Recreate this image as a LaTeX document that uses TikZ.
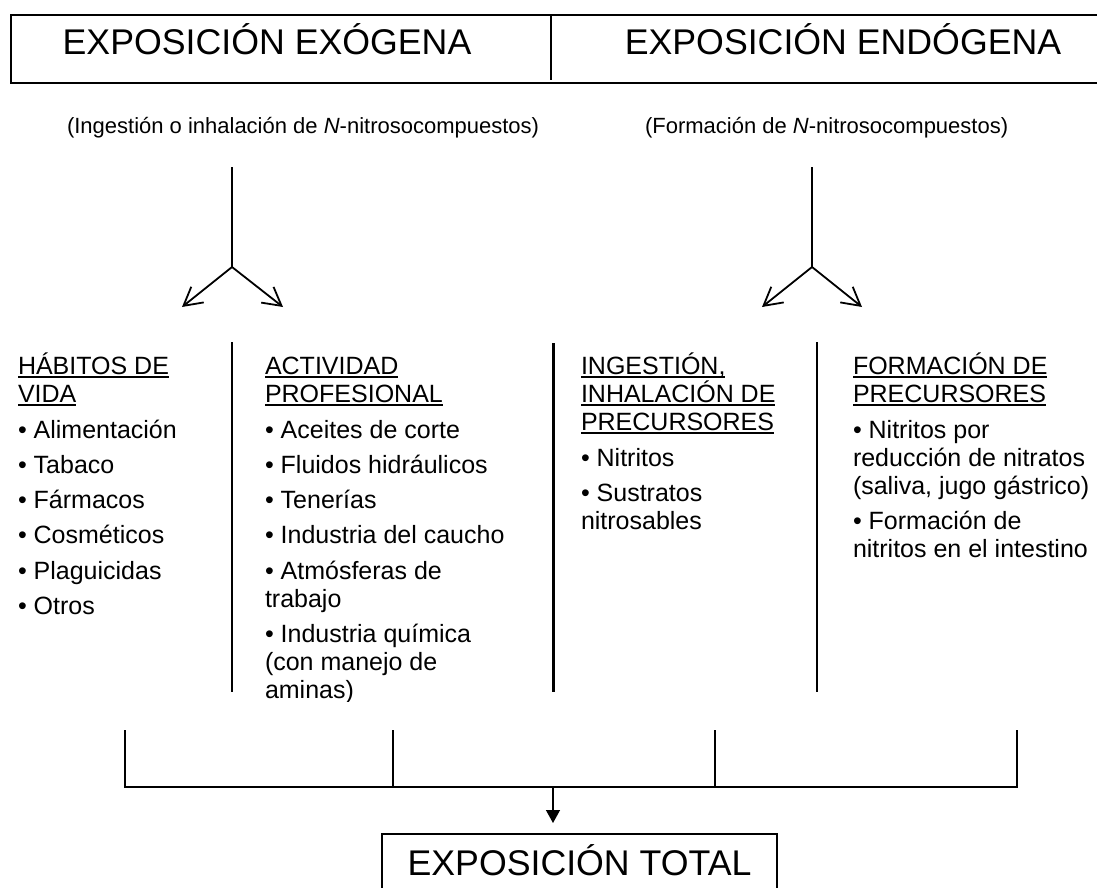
\documentclass[tikz,border=0pt]{standalone}
\usepackage{fontspec}
\setmainfont{Liberation Sans}
\usetikzlibrary{arrows.meta}

\newcommand{\firstline}{\rule{0pt}{24pt}}
\newcommand{\heading}[1]{\setbox0\hbox{#1}\rlap{\rule[-4pt]{\wd0}{1.8pt}}\box0}

\begin{document}
\begin{tikzpicture}[x=1pt, y=-1pt,
    every node/.style = {inner sep=0pt, outer sep=0pt},
    title/.style = {font=\fontsize{35.7}{40}\selectfont, anchor=base},
    subtitle/.style = {font=\fontsize{22}{26}\selectfont, anchor=base west},
    column/.style = {font=\fontsize{25}{28}\selectfont, align=left, anchor=north west},
    fork/.style = {line width=1.8pt, -{Straight Barb[length=18pt, width=20pt]}},
    divider/.style = {line width=1.3pt},
    bracket/.style = {line width=1.3pt}]
    \useasboundingbox (0,0) rectangle (1097,888);

    \draw[line width=2pt] (11,15) rectangle (1110,83);
    \draw[line width=2pt] (551,15) -- (551,80);
    \node[title] (exo) at (267,55) {EXPOSICIÓN EXÓGENA};
    \node[title] (endo) at (843,55) {EXPOSICIÓN ENDÓGENA};

    \node[subtitle] (exosub) at (67,133) {(Ingestión o inhalación de \textit{N}-nitrosocompuestos)};
    \node[subtitle] (endosub) at (645,133) {(Formación de \textit{N}-nitrosocompuestos)};

    \coordinate (exotop) at (232,167);
    \coordinate (exofork) at (232,267);
    \coordinate (exoleft) at (182,307);
    \coordinate (exoright) at (283,307);
    \draw[line width=1.8pt] (exotop) -- (exofork);
    \draw[fork] (exofork) -- (exoleft);
    \draw[fork] (exofork) -- (exoright);

    \coordinate (endotop) at (812,167);
    \coordinate (endofork) at (812,267);
    \coordinate (endoleft) at (762,307);
    \coordinate (endoright) at (862,307);
    \draw[line width=1.8pt] (endotop) -- (endofork);
    \draw[fork] (endofork) -- (endoleft);
    \draw[fork] (endofork) -- (endoright);

    \node[column] (habitos) at (18,350) {\firstline\heading{HÁBITOS DE}\\\heading{VIDA}\\[8pt]
        • Alimentación\\[7.3pt] • Tabaco\\[7.3pt] • Fármacos\\[7.3pt] • Cosméticos\\[7.3pt]
        • Plaguicidas\\[7.3pt] • Otros};
    \begin{scope}
        \clip (240,330) rectangle (545,701);
        \node[column] (actividad) at (265,350) {\firstline\heading{ACTIVIDAD}\\\heading{PROFESIONAL}\\[8pt]
            • Aceites de corte\\[7.3pt] • Fluidos hidráulicos\\[7.3pt] • Tenerías\\[7.3pt]
            • Industria del caucho\\[7.3pt] • Atmósferas de\\trabajo\\[7.3pt]
            • Industria química\\(con manejo de\\aminas)};
    \end{scope}
    \node[column] (ingestion) at (581,350) {\firstline\heading{INGESTIÓN,}\\\heading{INHALACIÓN DE}\\\heading{PRECURSORES}\\[8pt]
        • Nitritos\\[7.3pt] • Sustratos\\nitrosables};
    \node[column] (formacion) at (853,350) {\firstline\heading{FORMACIÓN DE}\\\heading{PRECURSORES}\\[8pt]
        • Nitritos por\\reducción de nitratos\\(saliva, jugo gástrico)\\[7.3pt]
        • Formación de\\nitritos en el intestino};

    \draw[divider] (232,342) -- (232,692);
    \draw[line width=3pt] (553,343) -- (553,692);
    \draw[divider] (817,342) -- (817,692);

    \coordinate (hub) at (553,787);
    \coordinate (tip) at (553,823);
    \draw[bracket] (125,730) -- (125,787) -- (1017,787) -- (1017,730);
    \draw[bracket] (393,730) -- (393,787);
    \draw[bracket] (715,730) -- (715,787);
    \node[title, draw, line width=1.3pt, minimum width=395pt, text height=41pt, text depth=25pt]
        (total) at (579.5,875) {EXPOSICIÓN TOTAL};
    \draw[bracket, -{Triangle[length=13pt, width=14pt]}] (hub) -- (tip);
\end{tikzpicture}
\end{document}
